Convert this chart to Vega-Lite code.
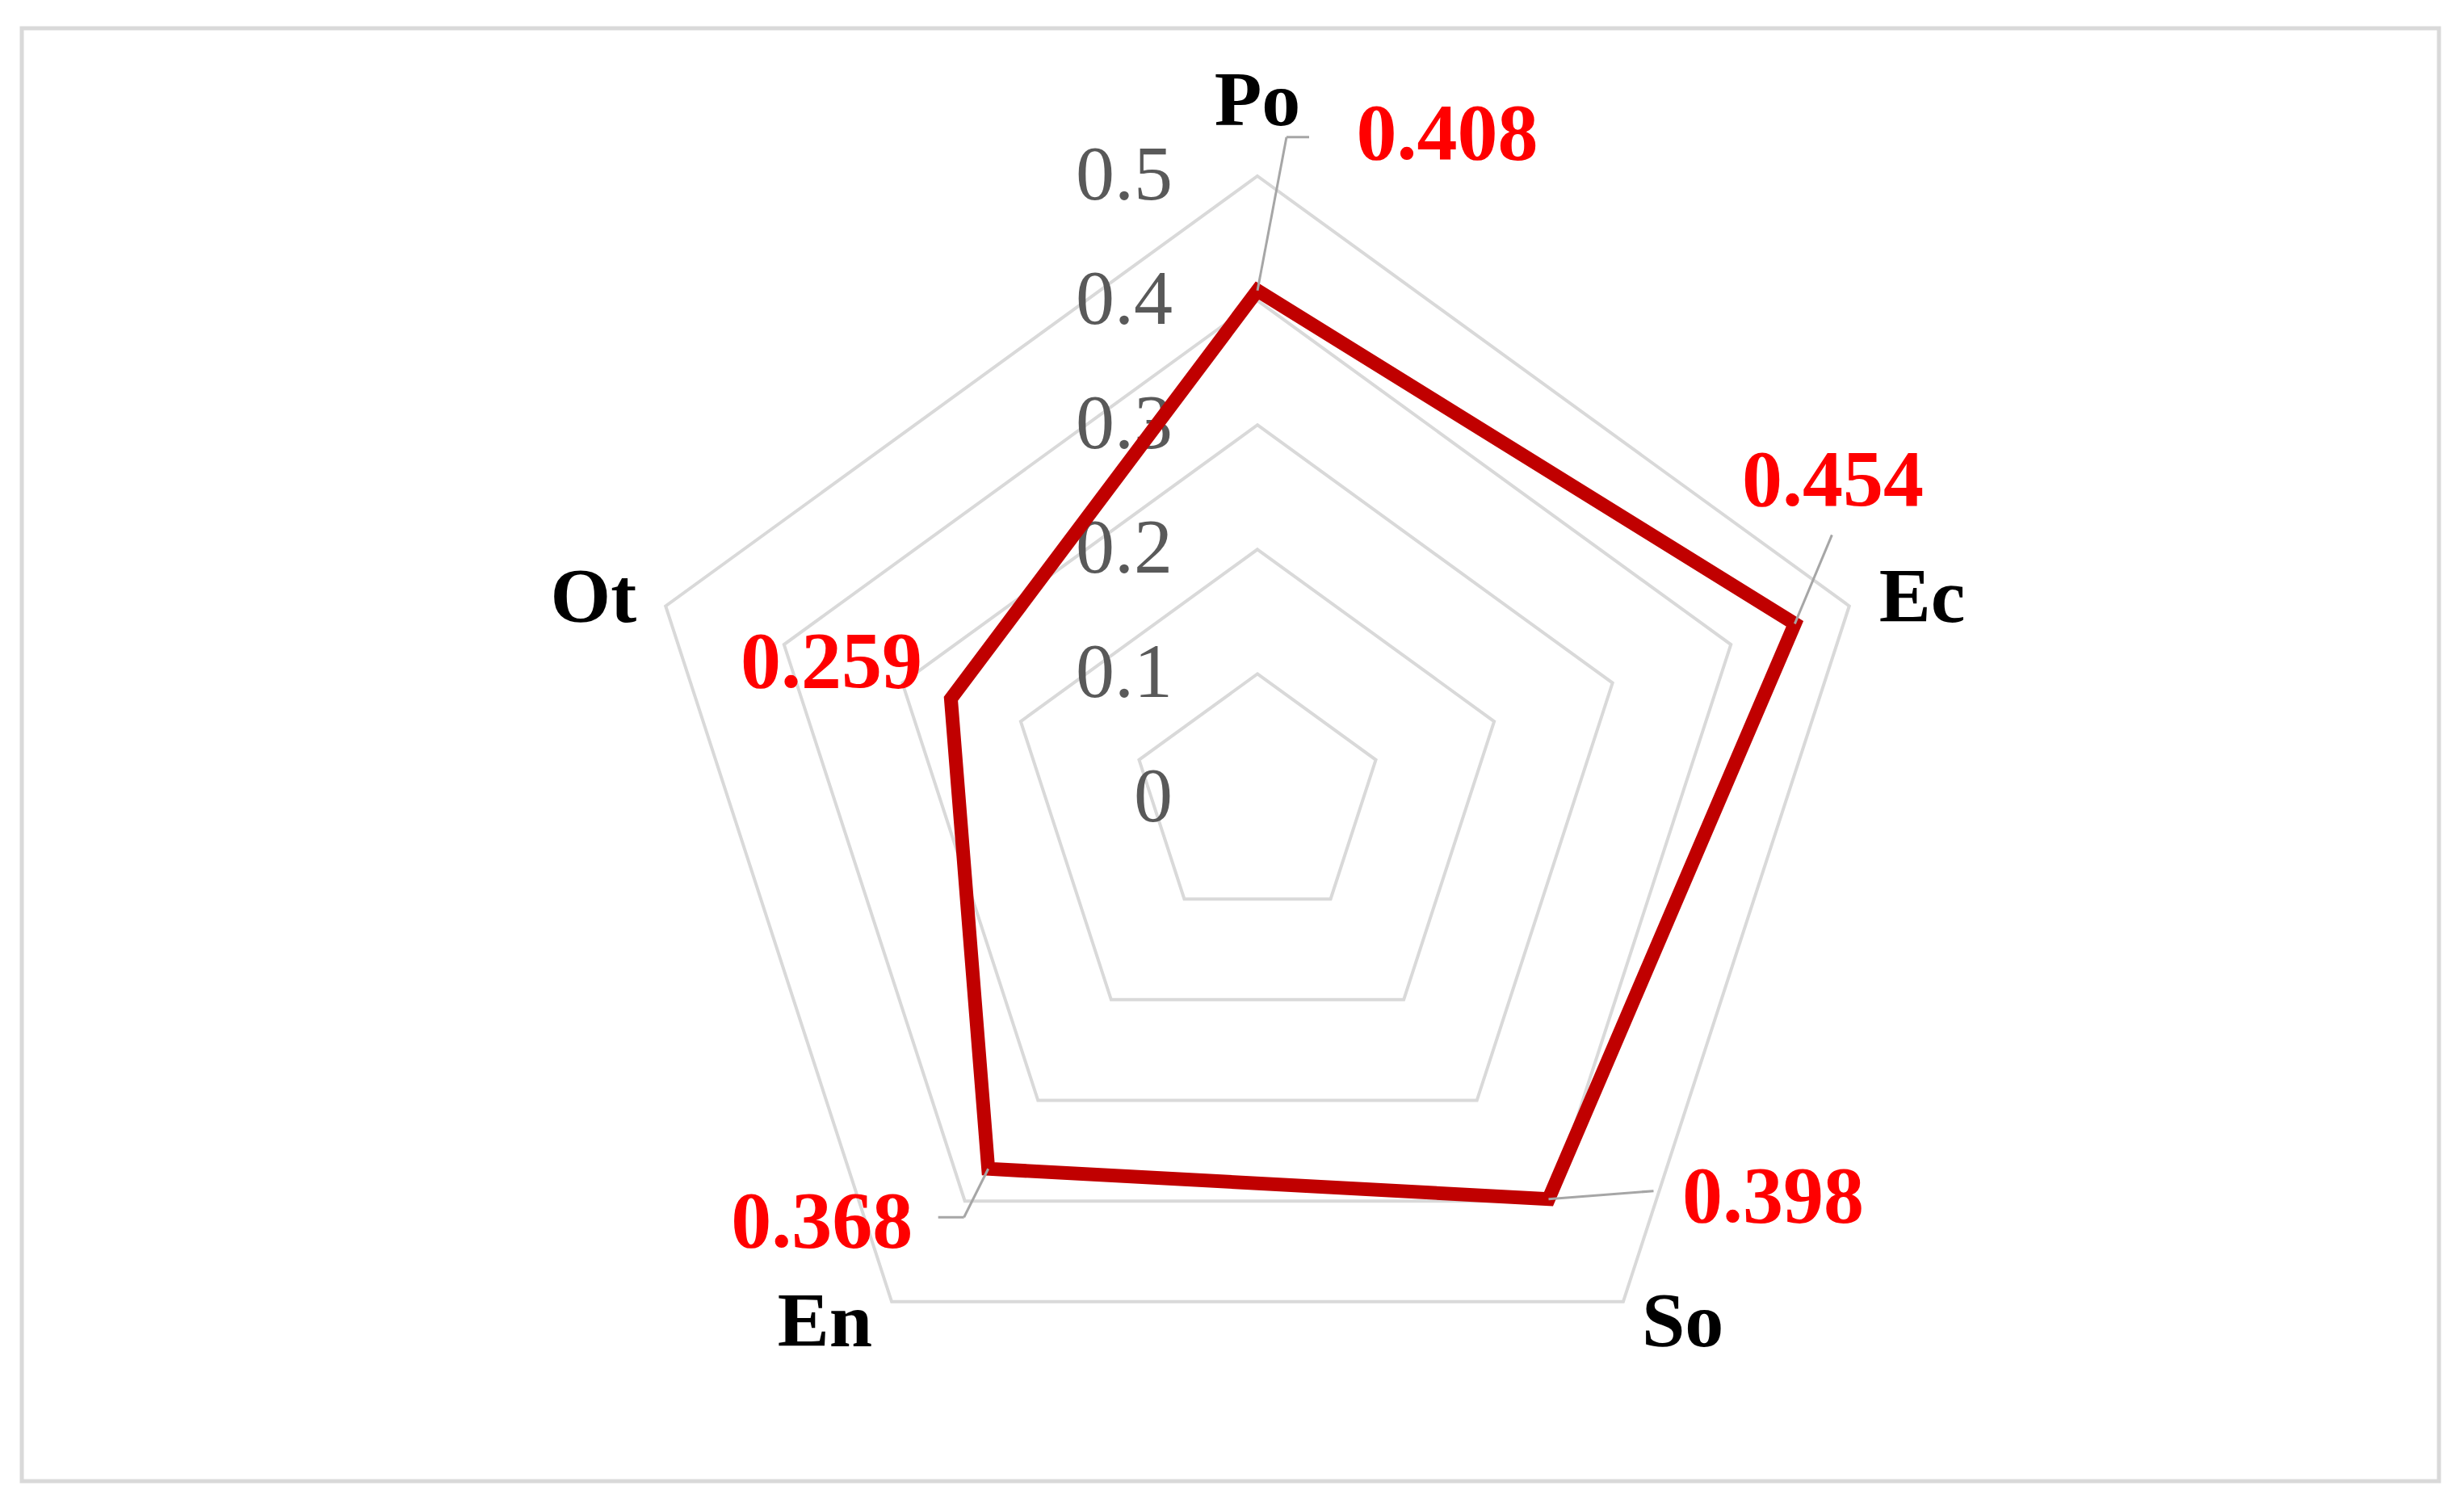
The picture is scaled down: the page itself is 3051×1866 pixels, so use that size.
{
  "$schema": "https://vega.github.io/schema/vega-lite/v6.json",
  "width": 2993,
  "height": 1799,
  "autosize": {"type": "none"},
  "padding": {"left": 27, "top": 35, "right": 31, "bottom": 32},
  "background": "white",
  "config": {"view": {"stroke": "#D9D9D9", "strokeWidth": 5}, "font": "Liberation Serif"},
  "datasets": {
    "scores": [
      {"cat": "Po", "value": 0.408, "order": 0},
      {"cat": "Ec", "value": 0.454, "order": 1},
      {"cat": "So", "value": 0.398, "order": 2},
      {"cat": "En", "value": 0.368, "order": 3},
      {"cat": "Ot", "value": 0.259, "order": 4}
    ],
    "rings": [
      {"level": 0, "vertex": [0, 1, 2, 3, 4]},
      {"level": 0.1, "vertex": [0, 1, 2, 3, 4]},
      {"level": 0.2, "vertex": [0, 1, 2, 3, 4]},
      {"level": 0.3, "vertex": [0, 1, 2, 3, 4]},
      {"level": 0.4, "vertex": [0, 1, 2, 3, 4]},
      {"level": 0.5, "vertex": [0, 1, 2, 3, 4]}
    ]
  },
  "data": {"name": "scores"},
  "transform": [
    {"calculate": "datum.order*2*PI/5", "as": "a"},
    {"calculate": "datum.value*sin(datum.a)", "as": "x"},
    {"calculate": "datum.value*cos(datum.a)", "as": "y"}
  ],
  "encoding": {
    "x": {"field": "x", "type": "quantitative", "scale": {"domain": [-0.99286, 0.94938], "nice": false, "zero": false}, "axis": null},
    "y": {"field": "y", "type": "quantitative", "scale": {"domain": [-0.54867, 0.61875], "nice": false, "zero": false}, "axis": null}
  },
  "layer": [
    {
      "data": {"name": "rings"},
      "transform": [
        {"filter": "datum.level > 0"},
        {"flatten": ["vertex"], "as": ["k"]},
        {"calculate": "datum.k*2*PI/5", "as": "a"},
        {"calculate": "datum.level*sin(datum.a)", "as": "x"},
        {"calculate": "datum.level*cos(datum.a)", "as": "y"}
      ],
      "mark": {"type": "line", "interpolate": "linear-closed", "stroke": "#D9D9D9", "strokeWidth": 4},
      "encoding": {
        "detail": {"field": "level", "type": "nominal"},
        "order": {"field": "k", "type": "quantitative"}
      }
    },
    {
      "data": {"name": "rings"},
      "transform": [
        {"calculate": "0", "as": "x"},
        {"calculate": "datum.level", "as": "y"}
      ],
      "mark": {"type": "text", "align": "right", "baseline": "middle", "dx": -105, "font": "Liberation Serif", "fontSize": 96, "fill": "#595959"},
      "encoding": {"text": {"field": "level", "type": "nominal"}}
    },
    {
      "mark": {"type": "line", "interpolate": "linear-closed", "stroke": "#C00000", "strokeWidth": 17, "strokeJoin": "miter"},
      "encoding": {"order": {"field": "order", "type": "quantitative"}}
    },
    {
      "transform": [{"filter": "datum.cat == 'Po'"}],
      "mark": {"type": "rule", "stroke": "#A6A6A6", "strokeWidth": 3, "x2Offset": 36, "y2Offset": -190},
      "encoding": {"x2": {"field": "x"}, "y2": {"field": "y"}}
    },
    {
      "transform": [{"filter": "datum.cat == 'Po'"}],
      "mark": {"type": "rule", "stroke": "#A6A6A6", "strokeWidth": 3, "xOffset": 36, "yOffset": -190, "x2Offset": 64, "y2Offset": -190},
      "encoding": {"x2": {"field": "x"}, "y2": {"field": "y"}}
    },
    {
      "transform": [{"filter": "datum.cat == 'Ec'"}],
      "mark": {"type": "rule", "stroke": "#A6A6A6", "strokeWidth": 3, "x2Offset": 46, "y2Offset": -110},
      "encoding": {"x2": {"field": "x"}, "y2": {"field": "y"}}
    },
    {
      "transform": [{"filter": "datum.cat == 'So'"}],
      "mark": {"type": "rule", "stroke": "#A6A6A6", "strokeWidth": 3, "x2Offset": 130, "y2Offset": -10},
      "encoding": {"x2": {"field": "x"}, "y2": {"field": "y"}}
    },
    {
      "transform": [{"filter": "datum.cat == 'En'"}],
      "mark": {"type": "rule", "stroke": "#A6A6A6", "strokeWidth": 3, "x2Offset": -30, "y2Offset": 60},
      "encoding": {"x2": {"field": "x"}, "y2": {"field": "y"}}
    },
    {
      "transform": [{"filter": "datum.cat == 'En'"}],
      "mark": {"type": "rule", "stroke": "#A6A6A6", "strokeWidth": 3, "xOffset": -30, "yOffset": 60, "x2Offset": -62, "y2Offset": 60},
      "encoding": {"x2": {"field": "x"}, "y2": {"field": "y"}}
    },
    {
      "transform": [{"filter": "datum.cat == 'Po'"}],
      "mark": {"type": "text", "align": "center", "baseline": "middle", "dx": 235, "dy": -193, "font": "Liberation Serif", "fontWeight": "bold", "fontSize": 100, "fill": "#FF0000"},
      "encoding": {"text": {"field": "value", "type": "quantitative", "format": ".3f"}}
    },
    {
      "transform": [{"filter": "datum.cat == 'Ec'"}],
      "mark": {"type": "text", "align": "center", "baseline": "middle", "dx": 47, "dy": -176, "font": "Liberation Serif", "fontWeight": "bold", "fontSize": 100, "fill": "#FF0000"},
      "encoding": {"text": {"field": "value", "type": "quantitative", "format": ".3f"}}
    },
    {
      "transform": [{"filter": "datum.cat == 'So'"}],
      "mark": {"type": "text", "align": "center", "baseline": "middle", "dx": 278, "dy": -2, "font": "Liberation Serif", "fontWeight": "bold", "fontSize": 100, "fill": "#FF0000"},
      "encoding": {"text": {"field": "value", "type": "quantitative", "format": ".3f"}}
    },
    {
      "transform": [{"filter": "datum.cat == 'En'"}],
      "mark": {"type": "text", "align": "center", "baseline": "middle", "dx": -206, "dy": 67, "font": "Liberation Serif", "fontWeight": "bold", "fontSize": 100, "fill": "#FF0000"},
      "encoding": {"text": {"field": "value", "type": "quantitative", "format": ".3f"}}
    },
    {
      "transform": [{"filter": "datum.cat == 'Ot'"}],
      "mark": {"type": "text", "align": "center", "baseline": "middle", "dx": -148, "dy": -44, "font": "Liberation Serif", "fontWeight": "bold", "fontSize": 100, "fill": "#FF0000"},
      "encoding": {"text": {"field": "value", "type": "quantitative", "format": ".3f"}}
    },
    {
      "transform": [{"filter": "datum.cat == 'Po'"}, {"calculate": "0.5*sin(datum.a)", "as": "x"}, {"calculate": "0.5*cos(datum.a)", "as": "y"}],
      "mark": {"type": "text", "align": "center", "baseline": "middle", "dy": -92, "font": "Liberation Serif", "fontWeight": "bold", "fontSize": 96, "fill": "#000000"},
      "encoding": {"text": {"field": "cat", "type": "nominal"}}
    },
    {
      "transform": [{"filter": "datum.cat == 'Ec'"}, {"calculate": "0.5*sin(datum.a)", "as": "x"}, {"calculate": "0.5*cos(datum.a)", "as": "y"}],
      "mark": {"type": "text", "align": "left", "baseline": "middle", "dx": 37, "dy": -9, "font": "Liberation Serif", "fontWeight": "bold", "fontSize": 96, "fill": "#000000"},
      "encoding": {"text": {"field": "cat", "type": "nominal"}}
    },
    {
      "transform": [{"filter": "datum.cat == 'So'"}, {"calculate": "0.5*sin(datum.a)", "as": "x"}, {"calculate": "0.5*cos(datum.a)", "as": "y"}],
      "mark": {"type": "text", "align": "left", "baseline": "middle", "dx": 23, "dy": 26, "font": "Liberation Serif", "fontWeight": "bold", "fontSize": 96, "fill": "#000000"},
      "encoding": {"text": {"field": "cat", "type": "nominal"}}
    },
    {
      "transform": [{"filter": "datum.cat == 'En'"}, {"calculate": "0.5*sin(datum.a)", "as": "x"}, {"calculate": "0.5*cos(datum.a)", "as": "y"}],
      "mark": {"type": "text", "align": "right", "baseline": "middle", "dx": -24, "dy": 26, "font": "Liberation Serif", "fontWeight": "bold", "fontSize": 96, "fill": "#000000"},
      "encoding": {"text": {"field": "cat", "type": "nominal"}}
    },
    {
      "transform": [{"filter": "datum.cat == 'Ot'"}, {"calculate": "0.5*sin(datum.a)", "as": "x"}, {"calculate": "0.5*cos(datum.a)", "as": "y"}],
      "mark": {"type": "text", "align": "right", "baseline": "middle", "dx": -36, "dy": -9, "font": "Liberation Serif", "fontWeight": "bold", "fontSize": 96, "fill": "#000000"},
      "encoding": {"text": {"field": "cat", "type": "nominal"}}
    }
  ]
}
